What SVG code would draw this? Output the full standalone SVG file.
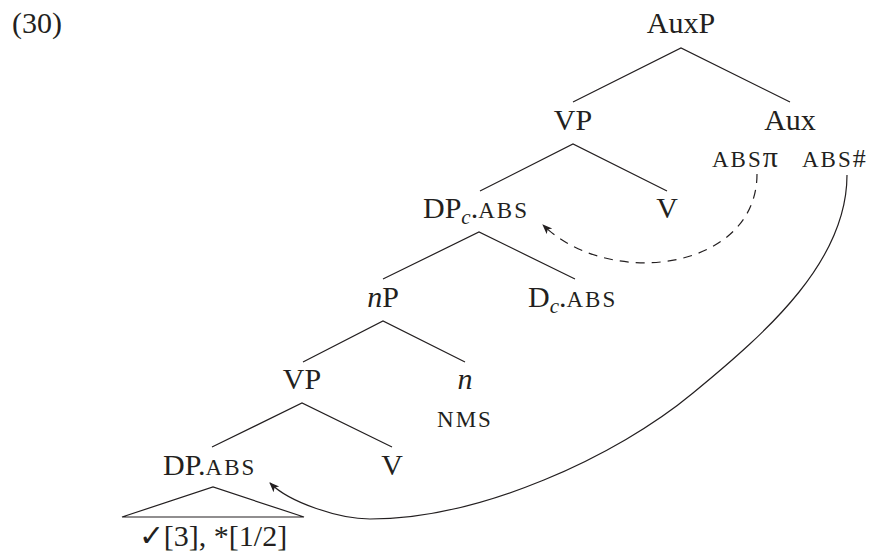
<svg xmlns="http://www.w3.org/2000/svg" width="870" height="551" viewBox="0 0 870 551">
<style>
text{font-family:"Liberation Serif","Times New Roman",serif;fill:#231f20;font-size:30px}
.sc{font-size:23px;letter-spacing:2px}
.it{font-style:italic}
.sub{font-size:21px;font-style:italic}
.e{stroke:#231f20;stroke-width:1.2;fill:none}
</style>
<defs>
<marker id="ah" viewBox="0 0 10 10" refX="9" refY="5" markerWidth="10" markerHeight="10" markerUnits="userSpaceOnUse" orient="auto">
<path d="M0,1 L10,5 L0,9 L2.5,5 Z" fill="#231f20"/>
</marker>
</defs>
<text x="12" y="33">(30)</text>
<g id="auxp"><text x="681" y="33" text-anchor="middle">AuxP</text></g>
<g id="vp1"><text x="573" y="130" text-anchor="middle">VP</text></g>
<g id="aux"><text x="790" y="130" text-anchor="middle">Aux</text>
<text x="712" y="167"><tspan class="sc">ABS</tspan>π</text>
<text x="802" y="167"><tspan class="sc">ABS</tspan><tspan font-size="26">#</tspan></text></g>
<g id="dpc"><text x="423" y="218">DP<tspan class="sub" dy="6">c</tspan><tspan dy="-6">.</tspan><tspan class="sc">ABS</tspan></text></g>
<g id="v1"><text x="667" y="218" text-anchor="middle">V</text></g>
<g id="np"><text x="383" y="307" text-anchor="middle"><tspan class="it">n</tspan>P</text></g>
<g id="dc"><text x="528" y="307">D<tspan class="sub" dy="6">c</tspan><tspan dy="-6">.</tspan><tspan class="sc">ABS</tspan></text></g>
<g id="vp2"><text x="302" y="389" text-anchor="middle">VP</text></g>
<g id="n"><text x="465" y="389" text-anchor="middle" class="it">n</text>
<text x="465" y="427" text-anchor="middle" class="sc">NMS</text></g>
<g id="dp"><text x="163" y="475">DP.<tspan class="sc">ABS</tspan></text></g>
<g id="v2"><text x="392" y="475" text-anchor="middle">V</text></g>
<g id="tri"><path class="e" d="M122,517 L213,487 L304,517 Z"/>
<text x="213" y="546" text-anchor="middle">✓[3], *[1/2]</text></g>
<g id="connectors">
<path class="e" d="M573,102 L681,48 L790,102"/>
<path class="e" d="M480,191 L573,144 L667,191"/>
<path class="e" d="M383,279 L479,232 L575,279"/>
<path class="e" d="M303,362 L383,321 L465,362"/>
<path class="e" d="M212,447 L302,403 L392,447"/>
<path class="e" d="M757,174 C757,270 610,290 543,225" stroke-dasharray="9,7" marker-end="url(#ah)"/>
<path class="e" d="M847,175 C847,260 770,330 693,393 C616,457 480,519 370,519 C340,519 290,503 270,483" marker-end="url(#ah)"/>
</g>
</svg>
